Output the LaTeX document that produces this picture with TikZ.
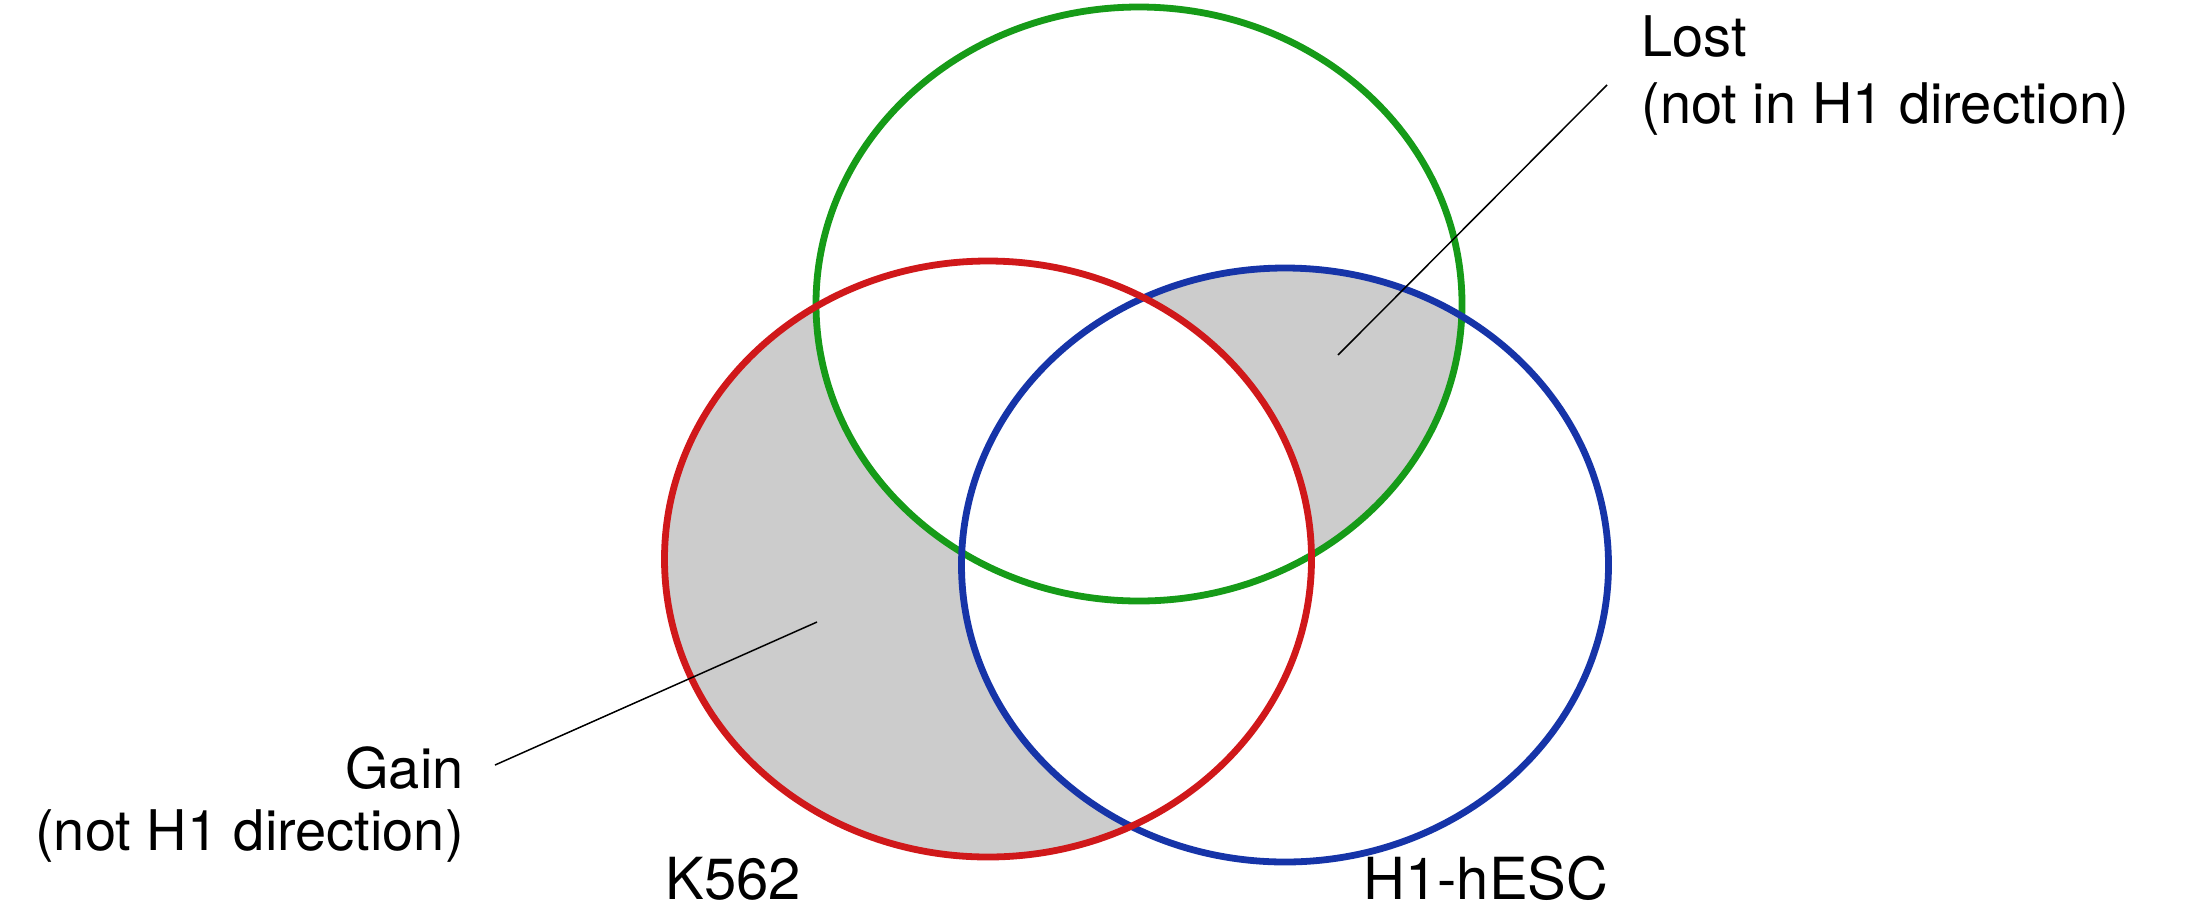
\documentclass[tikz,border=0pt]{standalone}
\usepackage{fontspec}
\setmainfont{TeX Gyre Heros}
\begin{document}
\begin{tikzpicture}[x=0.5pt,y=-0.5pt,
  ring/.style={line width=3.4pt},
  leader/.style={line width=0.75pt,black},
  lbl/.style={inner sep=0pt,font=\fontsize{28}{34}\selectfont},
  setname/.style={inner sep=0pt,font=\fontsize{29}{35}\selectfont}]
\definecolor{ringgreen}{RGB}{22,155,24}
\definecolor{ringred}{RGB}{208,24,26}
\definecolor{ringblue}{RGB}{22,52,168}
\definecolor{regiongray}{RGB}{204,204,204}
\useasboundingbox[fill=white] (0,0) rectangle (2186,923);
% the three sets
\def\greenset{(1139,304) ellipse [x radius=161.5pt, y radius=148.5pt]}
\def\redset{(988,559) ellipse [x radius=161.75pt, y radius=149pt]}
\def\blueset{(1285,565) ellipse [x radius=161.75pt, y radius=148.5pt]}
% gain: K562 only
\fill[regiongray] \redset;
\fill[white] \greenset;
\fill[white] \blueset;
% lost: green and blue, outside K562
\begin{scope}
  \clip \greenset;
  \fill[regiongray] \blueset;
\end{scope}
\begin{scope}
  \clip \greenset;
  \clip \blueset;
  \fill[white] \redset;
\end{scope}
% outlines
\draw[ring,ringgreen] \greenset;
\draw[ring,ringblue] \blueset;
\draw[ring,ringred] \redset;
% labels
\node[lbl,anchor=base west] (lost1) at (1641,56) {Lost};
\node[lbl,anchor=base west] (lost2) at (1641,123) {(not in H1 direction)};
\node[lbl,anchor=base east] (gain1) at (464,788) {Gain};
\node[lbl,anchor=base east] (gain2) at (464,850) {(not H1 direction)};
\node[setname,anchor=base west] (k562) at (665,899) {K562};
\node[setname,anchor=base west] (h1) at (1363,899) {H1-hESC};
% leader lines
\coordinate (lostfrom) at (1607,85);
\coordinate (lostto) at (1338,355);
\coordinate (gainfrom) at (495,765);
\coordinate (gainto) at (817,622);
\draw[leader] (lostfrom) -- (lostto);
\draw[leader] (gainfrom) -- (gainto);
\end{tikzpicture}
\end{document}
